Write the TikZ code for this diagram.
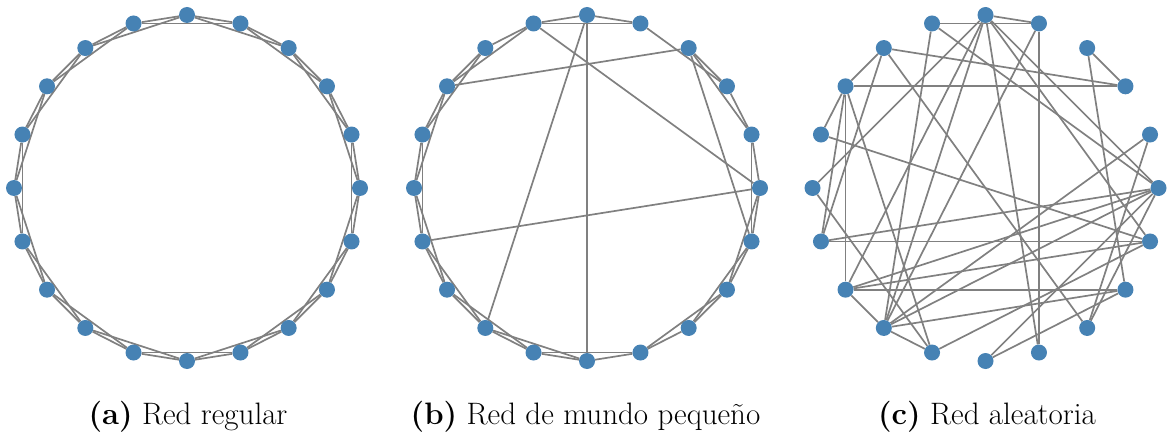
\documentclass[tikz,border=0pt]{standalone}
\usetikzlibrary{backgrounds}
\definecolor{nodeblue}{HTML}{4682B4}
\definecolor{edgegray}{HTML}{808080}
\tikzset{
  vert/.style={circle, fill=nodeblue, inner sep=0pt, minimum size=16pt},
  link/.style={draw=edgegray, line width=1.7pt},
  captext/.style={font=\fontsize{31}{36}\selectfont, anchor=base}
}
\begin{document}
\begin{tikzpicture}[x=1pt,y=-1pt]
\useasboundingbox (0,0) rectangle (1167,433);
\foreach \g/\cx in {a/187,b/587,c/985.5} {
  \foreach \k in {0,...,19} {
    \node[vert] (\g\k) at ({\cx+173*sin(18*\k)}, {188-173*cos(18*\k)}) {};
  }
}
\begin{pgfonlayer}{background}
% (a) regular ring lattice
\foreach \k in {0,...,19} {
  \pgfmathtruncatemacro{\ka}{mod(\k+1,20)}
  \pgfmathtruncatemacro{\kb}{mod(\k+2,20)}
  \draw[link] (a\k) -- (a\ka);
  \draw[link] (a\k) -- (a\kb);
}
% (b) small world
\foreach \u/\v in {0/1,2/3,3/4,4/5,5/6,6/7,7/8,8/9,9/10,10/11,11/12,12/13,13/14,14/15,15/16,16/17,17/18,18/19,19/0,
  1/3,2/4,4/6,5/7,6/8,7/9,9/11,10/12,11/13,12/14,13/15,14/16,15/17,16/18,17/19,19/1,
  0/10,0/12,19/5,17/2,14/5,2/6} {
  \draw[link] (b\u) -- (b\v);
}
% (c) random
\foreach \u/\v in {0/1,0/15,0/12,0/13,0/9,0/5,0/6,
  1/19,1/9,1/12,
  2/3,2/7,
  3/18,3/17,
  4/12,4/8,
  5/19,5/14,5/13,5/8,5/12,5/10,
  6/14,6/16,6/11,6/13,
  7/13,7/10,7/12,
  8/18,
  11/15,11/12,11/17,
  12/19,12/13,
  13/17,
  14/18,14/17,
  16/17,17/18} {
  \draw[link] (c\u) -- (c\v);
}
\end{pgfonlayer}
\node[captext] (capa) at (188,424) {\textbf{(a)} Red regular};
\node[captext] (capb) at (585.5,424) {\textbf{(b)} Red de mundo pequeño};
\node[captext] (capc) at (987,424) {\textbf{(c)} Red aleatoria};
\end{tikzpicture}
\end{document}
